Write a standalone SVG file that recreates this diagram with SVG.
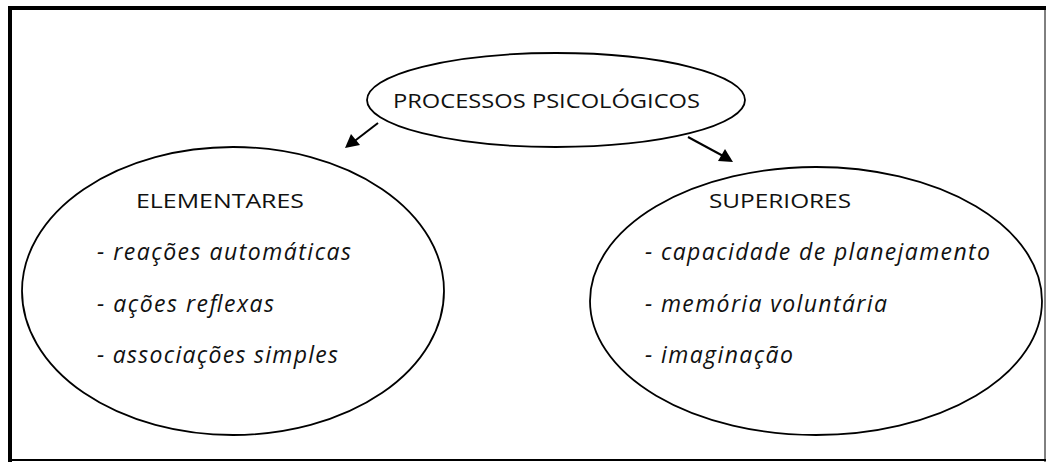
<svg xmlns="http://www.w3.org/2000/svg" width="1046" height="462" viewBox="0 0 1046 462">
<style>
.shape{fill:#fff;stroke:#000;stroke-width:1.8}
.t{font-family:"Open Sans","Noto Sans","Liberation Sans",sans-serif;font-size:20px;fill:#111}
.i{font-style:italic;font-size:23px}
.conn{stroke:#000;stroke-width:2;fill:none}
</style>
<rect x="0" y="0" width="1046" height="462" fill="#fff"/>
<g id="frame">
<line x1="10" y1="8" x2="1046" y2="8" stroke="#000" stroke-width="4"/>
<line x1="10" y1="6" x2="10" y2="462" stroke="#000" stroke-width="4"/>
<line x1="10" y1="460" x2="1046" y2="460" stroke="#000" stroke-width="2"/>
<line x1="1045" y1="8" x2="1045" y2="462" stroke="#000" stroke-width="1"/>
</g>
<g id="connectors">
<line class="conn" x1="378" y1="123" x2="352" y2="143"/>
<path d="M345,148 L351,134 L360,145 Z" fill="#000"/>
<line class="conn" x1="688" y1="137" x2="725" y2="157"/>
<path d="M733,162 L718,161 L725,149 Z" fill="#000"/>
</g>
<g id="node-root">
<ellipse class="shape" cx="556" cy="100" rx="189" ry="47"/>
<text class="t" x="393" y="108" textLength="307" lengthAdjust="spacingAndGlyphs">PROCESSOS PSICOLÓGICOS</text>
</g>
<g id="node-elementares">
<ellipse class="shape" cx="233" cy="291" rx="211" ry="144"/>
<text class="t" x="136" y="208" textLength="168" lengthAdjust="spacingAndGlyphs">ELEMENTARES</text>
<text class="t i" x="97" y="260" textLength="254" lengthAdjust="spacing">- reações automáticas</text>
<text class="t i" x="97" y="312" textLength="177" lengthAdjust="spacing">- ações reflexas</text>
<text class="t i" x="97" y="363" textLength="241" lengthAdjust="spacing">- associações simples</text>
</g>
<g id="node-superiores">
<ellipse class="shape" cx="816" cy="301" rx="226" ry="134"/>
<text class="t" x="709" y="208" textLength="142" lengthAdjust="spacingAndGlyphs">SUPERIORES</text>
<text class="t i" x="645" y="260" textLength="345" lengthAdjust="spacing">- capacidade de planejamento</text>
<text class="t i" x="645" y="312" textLength="242" lengthAdjust="spacing">- memória voluntária</text>
<text class="t i" x="645" y="363" textLength="148" lengthAdjust="spacing">- imaginação</text>
</g>
</svg>
